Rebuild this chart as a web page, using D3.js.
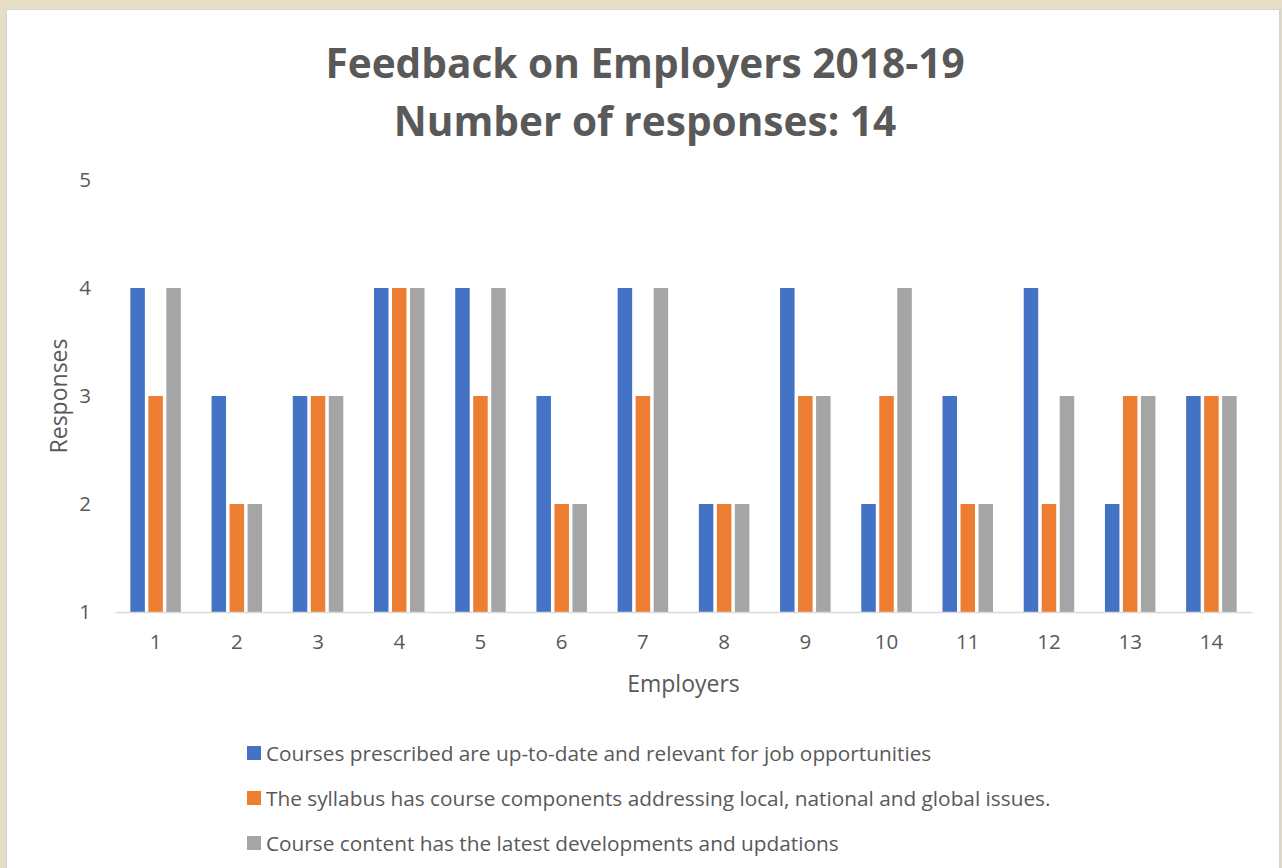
<!DOCTYPE html>
<html lang="en">
<head>
    <meta charset="UTF-8">
    <title>Feedback on Employers 2018-19</title>
    <script src="https://d3js.org/d3.v7.min.js"></script>
    <style>
        body {
            margin: 0;
            background: #e6ddc6;
            font-family: "Open Sans", sans-serif;
        }
        .axis-x text, .axis-y text {
            font-family: "Open Sans", sans-serif;
            font-size: 20.5px;
            fill: #595959;
        }
        .label {
            font-size: 23px;
            fill: #595959;
        }
        .legend text {
            font-size: 20.8px;
            fill: #595959;
        }
    </style>
</head>
<body>
    <div id="chart"></div>
    <script>
        // Data
        const employers = ["1", "2", "3", "4", "5", "6", "7", "8", "9", "10", "11", "12", "13", "14"];
        const seriesNames = [
            "Courses prescribed are up-to-date and relevant for job opportunities",
            "The syllabus has course components addressing local, national and global issues.",
            "Course content has the latest developments and updations"
        ];
        const upToDate = [4, 3, 3, 4, 4, 3, 4, 2, 4, 2, 3, 4, 2, 3];
        const syllabus = [3, 2, 3, 4, 3, 2, 3, 2, 3, 3, 2, 2, 3, 3];
        const content  = [4, 2, 3, 4, 4, 2, 4, 2, 3, 4, 2, 3, 3, 3];
        const yTicks = [1, 2, 3, 4, 5];
        const colors = ["#4472c4", "#ed7d31", "#a5a5a5"];

        const W = 1282, H = 868;
        const margin = { top: 180, right: 30, bottom: 256, left: 115 };
        const width = 1252 - margin.left;
        const height = 612 - margin.top;

        const svg = d3.select("#chart")
            .append("svg")
            .attr("width", W)
            .attr("height", H)
            .style("display", "block");

        // paper frame
        svg.append("rect")
            .attr("x", 6).attr("y", 9)
            .attr("width", 1275).attr("height", H)
            .attr("fill", "#d4d4d4");
        svg.append("rect")
            .attr("x", 7).attr("y", 10)
            .attr("width", 1272).attr("height", H)
            .attr("fill", "#ffffff");

        const g = svg.append("g")
            .attr("transform", "translate(" + margin.left + "," + margin.top + ")");

        const x = d3.scaleBand()
            .domain(employers)
            .range([0, width]);

        const y = d3.scaleLinear()
            .domain([1, 5])
            .range([height, 0]);

        const barW = 14.5, gap = 3.5;
        const series = [upToDate, syllabus, content];

        series.forEach(function(vals, si) {
            g.selectAll(".bar-" + si)
                .data(vals)
                .enter()
                .append("rect")
                .attr("class", "bar-" + si)
                .attr("x", (d, i) => x(employers[i]) + x.bandwidth() / 2 - 1.5 * barW - gap + si * (barW + gap))
                .attr("width", barW)
                .attr("y", d => y(d))
                .attr("height", d => height - y(d))
                .attr("fill", colors[si]);
        });

        // x axis
        const xAxis = g.append("g")
            .attr("class", "axis-x")
            .attr("transform", "translate(0," + height + ")")
            .call(d3.axisBottom(x).tickSize(0).tickPadding(22));
        xAxis.select(".domain").attr("stroke", "#d9d9d9").attr("stroke-width", 1.5);

        // y axis
        const yAxis = g.append("g")
            .attr("class", "axis-y")
            .call(d3.axisLeft(y).tickValues(yTicks).tickFormat(d3.format("d")).tickSize(0).tickPadding(24));
        yAxis.select(".domain").remove();

        // titles
        svg.append("text")
            .attr("text-anchor", "middle")
            .attr("x", 645).attr("y", 78)
            .style("font-size", "40.6px").style("font-weight", "bold").attr("fill", "#595959")
            .text("Feedback on Employers 2018-19");
        svg.append("text")
            .attr("text-anchor", "middle")
            .attr("x", 645).attr("y", 136)
            .style("font-size", "40.6px").style("font-weight", "bold").attr("fill", "#595959")
            .text("Number of responses: 14");

        svg.append("text")
            .attr("class", "label")
            .attr("text-anchor", "middle")
            .attr("x", margin.left + width / 2).attr("y", 692)
            .text("Employers");

        svg.append("text")
            .attr("class", "label")
            .attr("text-anchor", "middle")
            .attr("transform", "translate(67," + (margin.top + height / 2) + ") rotate(-90)")
            .text("Responses");

        // legend
        const legend = svg.append("g").attr("class", "legend");
        seriesNames.forEach(function(name, i) {
            const row = legend.append("g")
                .attr("transform", "translate(247," + (746 + i * 45) + ")");
            row.append("rect")
                .attr("width", 14).attr("height", 14)
                .attr("fill", colors[i]);
            row.append("text")
                .attr("x", 19).attr("y", 14.5)
                .text(name);
        });
    </script>
</body>
</html>
